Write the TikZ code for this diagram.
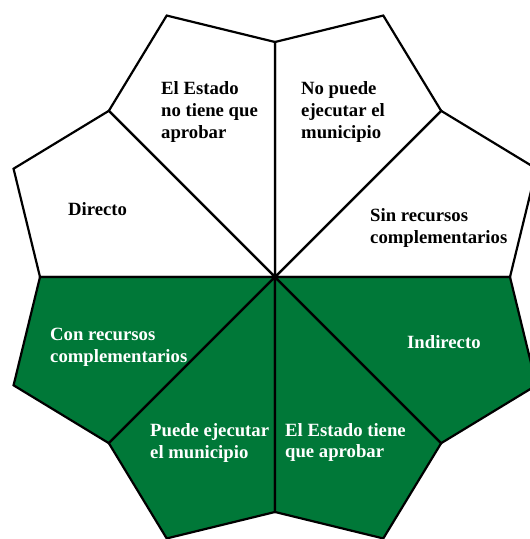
\documentclass[tikz,border=0pt]{standalone}
\usepackage{fontspec}
\setmainfont{Liberation Serif}
\usetikzlibrary{positioning}
\definecolor{petalgreen}{RGB}{0,120,56}

\begin{document}
\begin{tikzpicture}[x=1pt, y=1pt,
  petal/.style={draw=black, line width=2.2pt, line join=miter},
  petaltext/.style={anchor=base west, align=left, inner sep=0pt, font=\bfseries\fontsize{18.7}{21.7}\selectfont}]

\useasboundingbox (0,0) rectangle (530,539);
\clip (0,0) rectangle (530,539);

% Petals
\coordinate (c) at (275,262);
\begin{scope}[shift={(c)}]
\foreach \a/\col in {0/white, 45/white, 90/white, 135/white, 180/petalgreen, 225/petalgreen, 270/petalgreen, 315/petalgreen}
  \filldraw[petal, fill=\col] (0,0) -- (\a:235) -- (\a+22.5:283) -- (\a+45:235) -- cycle;
\end{scope}

% Nodes (base = baseline of the last line)
\node (estadono) [petaltext] at (161,400.6) {El Estado\\no tiene que\\aprobar};
\node (nopuede) [petaltext] at (301,400.6) {No puede\\ejecutar el\\municipio};
\node (directo) [petaltext] at (68,323) {Directo};
\node (sinrecursos) [petaltext] at (370,295.6) {Sin recursos\\complementarios};
\node (conrecursos) [petaltext, text=white] at (50,176.3) {Con recursos\\complementarios};
\node (indirecto) [petaltext, text=white] at (407,190.5) {Indirecto};
\node (puede) [petaltext, text=white] at (150,80.6) {Puede ejecutar\\el municipio};
\node (estadotiene) [petaltext, text=white] at (285,81) {El Estado tiene\\que aprobar};

\end{tikzpicture}
\end{document}
